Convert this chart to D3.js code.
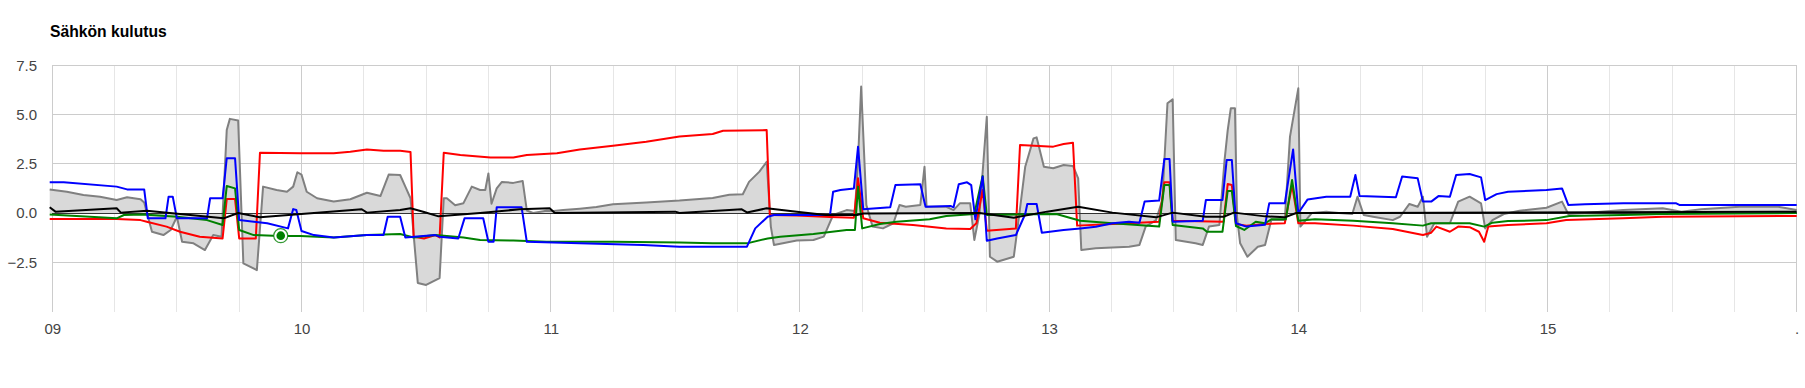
<!DOCTYPE html>
<html>
<head>
<meta charset="utf-8">
<script src="https://cdn.jsdelivr.net/npm/d3@7"></script>
<style>
  html, body { margin: 0; padding: 0; background: #fff; }
  svg { display: block; font-family: Arial, "Liberation Sans", sans-serif; }
</style>
</head>
<body>
<svg id="chart" width="1805" height="388"></svg>
<script>
// ---- data (time in hours since day 09 00:00, value) ----
const chartTitle = "Sähkön kulutus";
const dayLabels = ["09", "10", "11", "12", "13", "14", "15", "."];
const yTickValues = [-2.5, 0, 2.5, 5, 7.5];

const grayTotal = [
  [-0.25, 1.2], [1.4, 1.08], [3, 0.92], [4.6, 0.83], [6.2, 0.66], [7.2, 0.8], [8.5, 0.7], [8.85, 0.53],
  [9.6, -0.95], [10.7, -1.12], [11.4, -0.86], [12, -0.19], [12.5, -1.46], [13.6, -1.54], [14.7, -1.88],
  [15.5, -1.12], [16.3, -1.2], [16.8, 4.21], [17.1, 4.78], [17.9, 4.7], [18.4, -2.56], [19.7, -2.9],
  [20.3, 1.34], [21.6, 1.17], [22.6, 1.08], [23.2, 1.34], [23.6, 2.07], [24, 1.95], [24.5, 1.08],
  [25.5, 0.75], [27.1, 0.58], [28.7, 0.7], [30.3, 1.03], [31.6, 0.86], [32.4, 1.95], [33.5, 1.93],
  [34, 1.34], [34.5, 0.75], [35.2, -3.55], [36, -3.65], [37.3, -3.3], [37.7, 0.75], [38, 0.75],
  [38.8, 0.39], [39.6, 0.5], [40.4, 1.34], [41.2, 1.17], [41.7, 1.17], [42, 2.01], [42.3, 0.47],
  [42.8, 1.25], [43.3, 1.58], [44.4, 1.53], [45.3, 1.63], [45.7, 0.13], [46.3, 0.0], [47.6, 0.12],
  [48.3, 0.1], [49.2, 0.15], [50.8, 0.22], [52.4, 0.3], [54, 0.44], [57.2, 0.54], [60.4, 0.63],
  [63.6, 0.76], [65.2, 0.93], [66.5, 0.95], [67.1, 1.58], [68.1, 2.1], [68.8, 2.6], [69.2, -0.69],
  [69.5, -1.62], [71.7, -1.4], [73.3, -1.37], [74.3, -1.2], [75.2, -0.1], [76.5, 0.15], [77.3, 0.1],
  [77.6, 2.69], [77.9, 6.42], [78.4, 0.41], [79, -0.69], [80, -0.78], [81, -0.52], [81.6, 0.41],
  [82.2, 0.32], [83.6, 0.41], [84, 2.35], [84.2, 0.32], [86.1, 0.32], [86.8, 0.15], [87.4, 0.49],
  [88.4, 0.49], [88.8, -1.37], [89.3, -0.02], [90, 4.89], [90.3, -2.22], [91, -2.47], [92.6, -2.22],
  [93.1, -0.2], [93.7, 2.35], [94.5, 3.79], [94.8, 3.84], [95.5, 2.35], [96.4, 2.27], [97.4, 2.44],
  [98.3, 2.39], [98.8, 1.76], [99.1, -1.88], [100.5, -1.79], [103.7, -1.71], [104.7, -1.62],
  [105.3, -0.69], [106.3, -0.36], [106.9, 0.66], [107.4, 5.57], [107.9, 5.77], [108.2, -1.37],
  [110.1, -1.54], [110.8, -1.62], [111.4, -0.69], [112.4, -0.61], [112.9, 2.69], [113.2, 4.2],
  [113.5, 5.32], [113.9, 5.32], [114.1, -0.2], [114.4, -1.54], [115.1, -2.22], [116.1, -1.71],
  [116.8, -1.62], [117.4, -0.36], [118.7, -0.36], [119.2, 3.88], [120, 6.33], [120.2, -0.69],
  [121.3, 0], [122.7, 0.07], [123.9, 0], [125.2, -0.05], [125.7, 0.83], [126.3, -0.1], [127.2, -0.19],
  [129.1, -0.36], [129.8, -0.19], [130.7, 0.46], [131.5, 0.32], [132, 0.83], [132.4, -1.2],
  [133.1, -0.52], [134.6, -0.52], [135.4, 0.58], [136.5, 0.83], [137.6, 0.49], [138, -0.78],
  [138.7, -0.36], [139.8, -0.05], [141.3, 0.12], [143.9, 0.27], [145.4, 0.58], [146, -0.05],
  [147.6, 0], [151.3, 0.15], [155.1, 0.24], [156.9, 0.07], [158.8, 0.19], [162.5, 0.32],
  [166.2, 0.32], [168, 0.15]
];

const redSeries = [
  [-0.25, -0.3], [6.2, -0.3], [8.5, -0.36], [9.1, -0.44], [11, -0.69], [12.3, -0.95], [14.2, -1.2],
  [16.4, -1.29], [16.8, 0.71], [17.6, 0.71], [18, -1.29], [19.6, -1.29], [20, 3.06], [23.9, 3.03],
  [27.1, 3.03], [28.7, 3.11], [30.3, 3.23], [31.9, 3.16], [33.5, 3.16], [34.5, 3.1], [34.8, -1.2],
  [35.8, -1.29], [36.9, -1.12], [37.3, -1.24], [37.7, 3.06], [39.3, 2.95], [42.2, 2.82], [44.4, 2.82],
  [45.7, 2.95], [48.6, 3.03], [50.8, 3.23], [54, 3.42], [57.2, 3.62], [60.4, 3.88], [63.6, 4.01],
  [64.6, 4.18], [68.8, 4.21], [69.1, -0.1], [71.7, -0.12], [74.9, -0.2], [77.2, -0.24], [77.6, 1.76],
  [78.1, -0.27], [79.7, -0.49], [82.9, -0.61], [86.1, -0.78], [88.4, -0.81], [89, -0.52], [89.6, 1.17],
  [90, -0.9], [92.8, -0.78], [93.2, 3.45], [96.4, 3.37], [97.4, 3.5], [98.3, 3.57], [98.7, -0.64],
  [102.1, -0.56], [106.6, -0.44], [107.1, 1.56], [107.6, 1.56], [107.9, -0.39], [112.8, -0.44],
  [113.2, 1.47], [113.6, 1.42], [114, -0.56], [115, -0.64], [116.8, -0.56], [118.7, -0.52],
  [119.4, 1.42], [120, -0.52], [121.6, -0.52], [125.3, -0.64], [129.1, -0.81], [132, -1.12],
  [132.8, -1.0], [133.3, -0.69], [134.6, -0.95], [135.4, -0.69], [136.5, -0.72], [137.4, -0.95],
  [137.9, -1.46], [138.3, -0.69], [140.2, -0.61], [143.9, -0.52], [145.8, -0.36], [151.3, -0.27],
  [155.1, -0.19], [168, -0.15]
];

const blueSeries = [
  [-0.25, 1.56], [1.1, 1.56], [6.2, 1.34], [7.2, 1.2], [8.85, 1.2], [9.2, -0.27], [10.9, -0.27],
  [11.2, 0.83], [11.6, 0.83], [12, -0.27], [14.9, -0.27], [15.2, 0.75], [16.4, 0.75], [16.8, 2.78],
  [17.6, 2.78], [18, -0.36], [20.7, -0.52], [22.7, -0.78], [23.2, 0.2], [23.5, 0.15], [24, -0.91],
  [25.2, -1.12], [27.1, -1.24], [30.3, -1.12], [31.9, -1.12], [32.3, -0.19], [33.5, -0.19], [34, -1.24],
  [36.9, -1.12], [37.3, -1.2], [39.1, -1.29], [39.7, -0.27], [41.5, -0.27], [42, -1.46], [42.5, -1.46],
  [42.8, 0.29], [45.2, 0.29], [45.7, -1.46], [50.8, -1.54], [56.9, -1.62], [60.4, -1.71], [66.9, -1.71],
  [67.7, -0.78], [68.9, -0.19], [69.5, -0.1], [74.9, -0.1], [75.2, 1.08], [75.9, 1.17], [77.2, 1.25],
  [77.6, 3.37], [78.1, 0.19], [80.7, 0.29], [81.2, 1.42], [83.6, 1.46], [84.1, 0.32], [86.5, 0.36],
  [86.8, 0.29], [87.3, 1.46], [88.1, 1.56], [88.5, 1.42], [88.9, -0.32], [89.6, 1.85], [90, -1.41],
  [91, -1.29], [92.8, -1.12], [93.7, -0.05], [93.9, 0.46], [94.8, 0.46], [95.3, -1.0], [97.4, -0.86],
  [99, -0.78], [100.5, -0.7], [102.1, -0.52], [103.7, -0.44], [104.7, -0.49], [105.2, 0.58],
  [106.6, 0.63], [107.1, 2.74], [107.6, 2.74], [107.9, -0.44], [110.8, -0.39], [111.1, 0.66],
  [112.7, 0.66], [113.1, 2.69], [113.6, 2.69], [114, -0.52], [115, -0.69], [116.8, -0.6], [117.2, 0.49],
  [118.7, 0.49], [119.5, 3.23], [120, 0], [120.9, 0.69], [122.7, 0.83], [125, 0.83], [125.5, 1.93],
  [125.9, 0.86], [129.4, 0.8], [130, 1.85], [131.5, 1.76], [132, 0.58], [132.8, 0.58], [133.5, 0.86],
  [134.6, 0.83], [135.2, 1.93], [136.5, 1.98], [137.6, 1.81], [138, 0.66], [139.1, 0.96], [140.2, 1.08],
  [143.9, 1.17], [145.4, 1.25], [146, 0.41], [147.6, 0.44], [151.3, 0.49], [156.4, 0.49], [156.7, 0.41],
  [168, 0.41]
];

const greenSeries = [
  [-0.25, -0.07], [6.2, -0.27], [6.9, -0.1], [8.8, -0.07], [12, -0.19], [14.9, -0.36], [16.4, -0.61],
  [16.8, 1.37], [17.6, 1.25], [18, -0.86], [19.4, -1.12], [21.9, -1.17], [23.9, -1.17], [27.1, -1.24],
  [30.3, -1.12], [33.5, -1.07], [34.8, -1.24], [36.9, -1.12], [38, -1.17], [39.6, -1.24], [41.2, -1.37],
  [44.4, -1.4], [47.6, -1.46], [54, -1.46], [60.4, -1.5], [63.6, -1.54], [66.9, -1.54], [68.9, -1.29],
  [70.1, -1.2], [73.3, -1.07], [74.3, -1.0], [76.5, -0.86], [77.3, -0.86], [77.6, 1.34], [78, -0.78],
  [79.7, -0.56], [81.3, -0.44], [84.5, -0.32], [86.1, -0.15], [88.8, -0.05], [89.6, 1.88], [90, -0.1],
  [96.7, -0.05], [99, -0.39], [102.1, -0.52], [106.6, -0.69], [107.1, 1.42], [107.6, 1.42],
  [107.9, -0.61], [110.8, -0.78], [111.2, -0.95], [112.7, -0.95], [113.2, 1.12], [113.6, 1.12],
  [114, -0.66], [114.8, -0.86], [115.9, -0.44], [116.8, -0.52], [117.4, -0.32], [118.8, -0.32],
  [119.4, 1.68], [120, -0.39], [121.6, -0.32], [125.3, -0.39], [129.1, -0.52], [132, -0.64],
  [132.8, -0.52], [136.5, -0.52], [137.9, -0.69], [138.7, -0.49], [140.2, -0.41], [143.9, -0.36],
  [146.1, -0.15], [151.3, -0.1], [155.1, -0.05], [168, 0.0]
];

const blackSeries = [
  [-0.25, 0.29], [0.3, 0.07], [6.2, 0.24], [6.6, 0.02], [9.1, 0.12], [16.5, -0.27], [17.9, 0.0],
  [20, -0.22], [29.8, 0.19], [30.3, 0.02], [33.5, 0.15], [34.5, 0.24], [35.8, 0.05], [37.2, -0.17],
  [41.2, 0], [45, 0.19], [47.9, 0.24], [48.4, 0.0], [60, 0.07], [60.4, 0.0], [66.4, 0.19], [66.9, 0.03],
  [68.8, 0.24], [71.7, 0.07], [74.5, -0.1], [77.5, -0.1], [78.1, -0.02], [89.3, 0.0], [92.6, -0.24],
  [95.8, 0.07], [98.8, 0.32], [102.1, 0.02], [106.3, -0.22], [107.9, 0.02], [111.1, -0.19],
  [112.8, -0.19], [113.8, 0.02], [116.8, -0.17], [118.7, -0.22], [119.8, 0], [125.3, 0], [168, 0.07]
];

const focusPoint = [22.0, -1.15]; // highlighted point on the green series

// ---- layout ----
const svg = d3.select("#chart");
const plotLeft = 52.3, plotRight = 1796.7, plotTop = 65.3, plotBottom = 311.5;

const x = d3.scaleLinear().domain([0, 168]).range([plotLeft, plotRight]);
const y = d3.scaleLinear().domain([-5, 7.5]).range([plotBottom, plotTop]);

// gridlines
const grid = svg.append("g");
const minorHours = d3.range(0, 169, 6).filter(h => h % 24 !== 0);
grid.selectAll("line.minor").data(minorHours).enter().append("line")
  .attr("x1", d => x(d)).attr("x2", d => x(d)).attr("y1", plotTop).attr("y2", plotBottom)
  .attr("stroke", "#e6e6e6").attr("stroke-width", 1).attr("shape-rendering", "crispEdges");
grid.selectAll("line.major").data(d3.range(0, 169, 24)).enter().append("line")
  .attr("x1", d => x(d)).attr("x2", d => x(d)).attr("y1", plotTop).attr("y2", plotBottom)
  .attr("stroke", "#cccccc").attr("stroke-width", 1).attr("shape-rendering", "crispEdges");
grid.selectAll("line.h").data(yTickValues.filter(v => v !== 0)).enter().append("line")
  .attr("x1", plotLeft).attr("x2", plotRight).attr("y1", d => y(d)).attr("y2", d => y(d))
  .attr("stroke", "#cccccc").attr("stroke-width", 1).attr("shape-rendering", "crispEdges");

// title
svg.append("text").attr("x", 50).attr("y", 36.5)
  .attr("font-size", 15.7).attr("font-weight", "bold").attr("fill", "#000")
  .text(chartTitle);

// y axis labels
const yAxis = d3.axisLeft(y).tickValues(yTickValues).tickFormat(d3.format(".1f")).tickSize(0).tickPadding(0);
const yg = svg.append("g").attr("transform", `translate(37,0)`).call(yAxis);
yg.select(".domain").remove();
yg.selectAll("text").attr("font-size", 15).attr("fill", "#444").attr("font-family", "Arial, 'Liberation Sans', sans-serif");

// x axis labels
const xAxis = d3.axisBottom(x).tickValues(d3.range(0, 169, 24))
  .tickFormat((d, i) => dayLabels[i]).tickSize(0).tickPadding(0);
const xg = svg.append("g").attr("transform", `translate(0,${plotBottom})`).call(xAxis);
xg.select(".domain").remove();
xg.selectAll("text").attr("font-size", 15).attr("fill", "#444").attr("dy", null).attr("y", 22.5)
  .attr("font-family", "Arial, 'Liberation Sans', sans-serif");

// area series
const area = d3.area().x(d => x(d[0])).y0(y(0)).y1(d => y(d[1]));
const line = d3.line().x(d => x(d[0])).y(d => y(d[1]));

svg.append("path").datum(grayTotal).attr("d", area).attr("fill", "#d9d9d9");
svg.append("path").datum(grayTotal).attr("d", line).attr("fill", "none")
  .attr("stroke", "#808080").attr("stroke-width", 2).attr("stroke-linejoin", "round");

// baseline at zero
svg.append("line").attr("x1", plotLeft).attr("x2", plotRight).attr("y1", y(0)).attr("y2", y(0))
  .attr("stroke", "#333").attr("stroke-width", 1).attr("shape-rendering", "crispEdges");

// line series
const lineSeries = [
  { data: redSeries, color: "#ff0000" },
  { data: greenSeries, color: "#008000" },
  { data: blueSeries, color: "#0000ff" },
  { data: blackSeries, color: "#000000" }
];
lineSeries.forEach(s => {
  svg.append("path").datum(s.data).attr("d", line).attr("fill", "none")
    .attr("stroke", s.color).attr("stroke-width", 2).attr("stroke-linejoin", "round");
});

// focus marker
svg.append("circle").attr("cx", x(focusPoint[0])).attr("cy", y(focusPoint[1])).attr("r", 7)
  .attr("fill", "#fff").attr("stroke", "#008000").attr("stroke-width", 1.2).attr("stroke-opacity", 0.8);
svg.append("circle").attr("cx", x(focusPoint[0])).attr("cy", y(focusPoint[1])).attr("r", 4.3)
  .attr("fill", "#008000");
</script>
</body>
</html>
